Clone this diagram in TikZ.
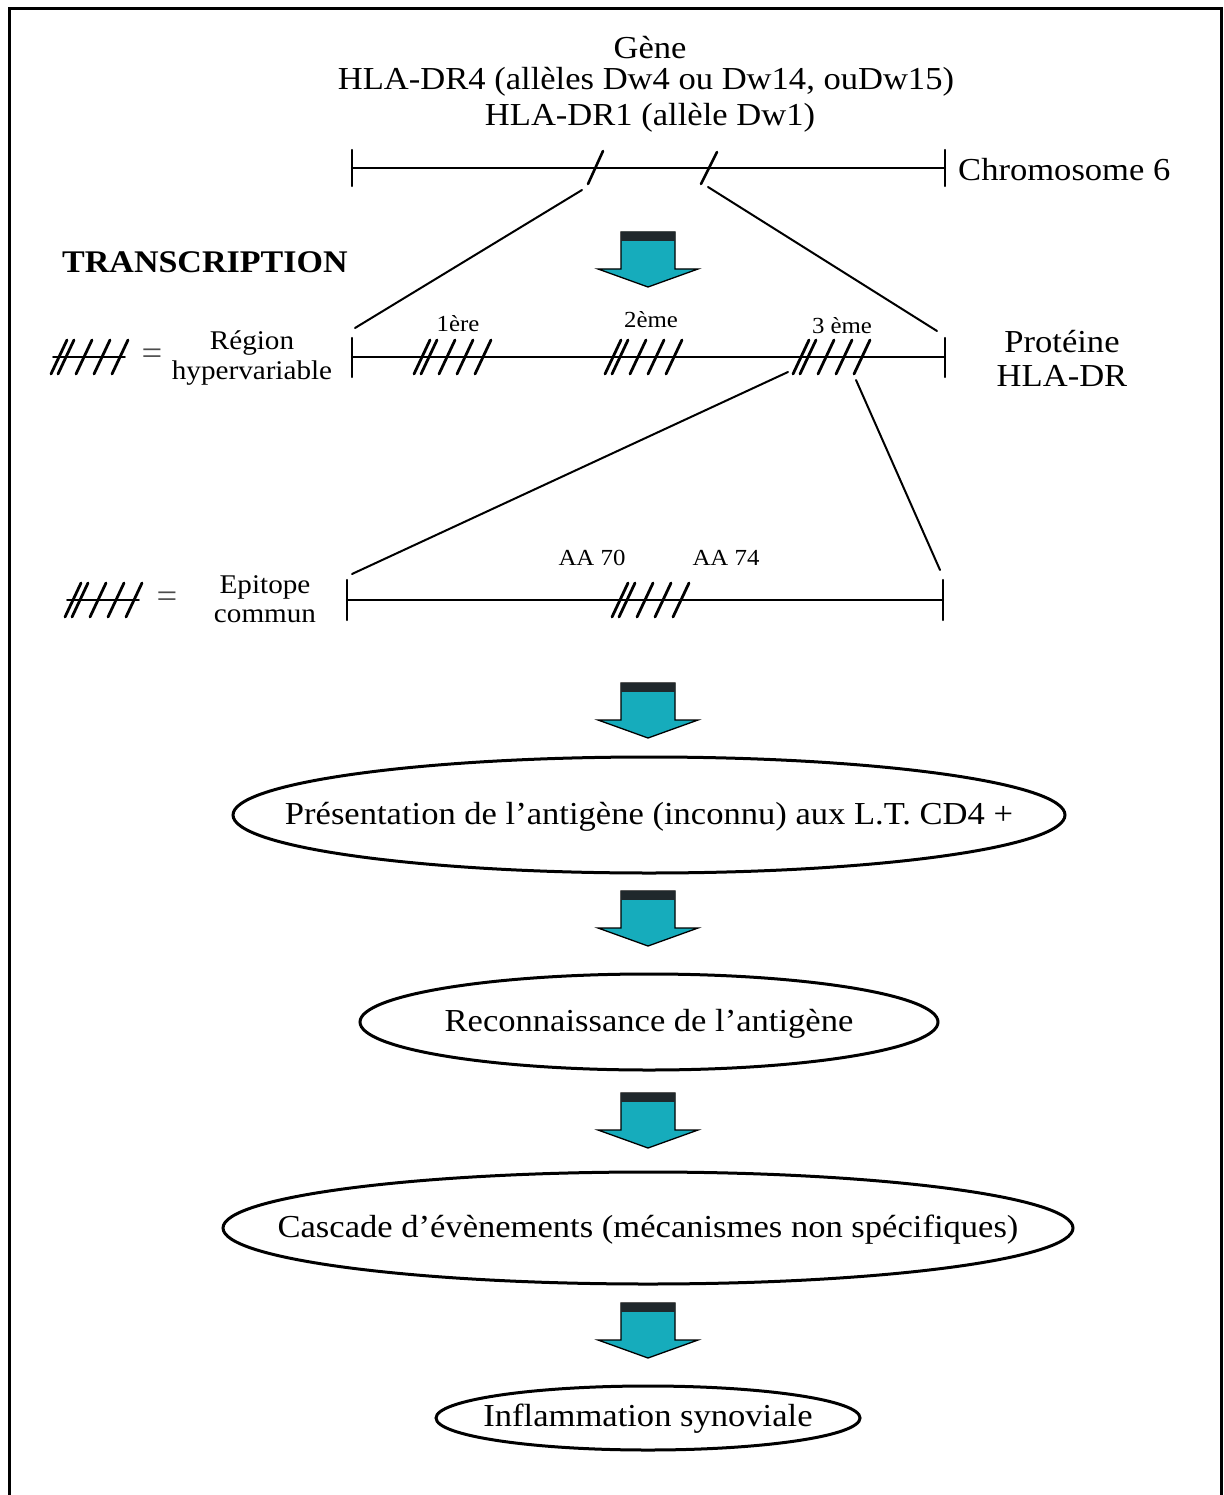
\documentclass[tikz,border=0pt]{standalone}
\usepackage{fontspec}
\setmainfont{Liberation Serif}[FakeStretch=1.08]
\definecolor{tealfill}{RGB}{22,172,188}
\definecolor{darkband}{RGB}{32,40,44}
\begin{document}
\begin{tikzpicture}[x=1pt,y=-1pt,line cap=round,
  txt/.style={font=\fontsize{32}{35}\selectfont,inner sep=0pt,align=center},
  smalltxt/.style={font=\fontsize{27}{30}\selectfont,inner sep=0pt,align=center},
  eqtxt/.style={font=\fontsize{34}{36}\selectfont,inner sep=0pt,text=black!70},
  tinytxt/.style={font=\fontsize{23}{25}\selectfont,inner sep=0pt},
  aatxt/.style={font=\fontsize{23}{25}\selectfont,inner sep=0pt},
  boldtxt/.style={font=\fontsize{31.5}{33}\selectfont\bfseries,inner sep=0pt},
  axis/.style={line width=2.2pt},
  zoomline/.style={line width=2pt},
  elltxt/.style={inner sep=0pt,font=\fontsize{32}{35}\selectfont},
  ellline/.style={line width=3pt},
  hatchmark/.pic={\foreach \d in {-30,-23,-5,13,31}{\draw[line width=2.8pt] (\d-8,17) -- (\d+8,-17);}},
  legendhatch/.pic={\draw[line width=1.6pt] (-36,0) -- (36,0);
     \foreach \d in {-30,-23,-5,13,31}{\draw[line width=2.8pt] (\d-8,17) -- (\d+8,-17);}},
  bigarrow/.pic={
    \filldraw[fill=tealfill,draw=black,line width=1.3pt,line join=miter]
      (-27,0) -- (27,0) -- (27,37) -- (50,37) -- (0,55) -- (-50,37) -- (-27,37) -- cycle;
    \fill[darkband] (-27,0) rectangle (27,9);}
]
\useasboundingbox (0,0) rectangle (1223,1495);
\fill[white] (0,0) rectangle (1223,1495);
\draw[line width=3pt,line cap=butt] (9,1500) -- (9,9) -- (1221,9) -- (1221,1500);

% title
\node[txt] (gene) at (650,48) {Gène};
\node[txt] (dr4) at (646,82) {HLA-DR4 (allèles Dw4 ou Dw14, ouDw15)};
\node[txt] (dr1) at (650,118) {HLA-DR1 (allèle Dw1)};

% chromosome
\coordinate (c1) at (352,168);
\coordinate (c2) at (945,168);
\draw[axis] (c1) -- (c2);
\draw[axis] (352,150) -- (352,186);
\draw[axis] (945,150) -- (945,186);
\node[txt,anchor=west] (chrom) at (958,170) {Chromosome 6};
\draw[line width=2.6pt] (603,151) -- (588,184);
\draw[line width=2.6pt] (717,152) -- (701,184);
\coordinate (s1) at (582,190);
\coordinate (s2) at (708,187);

% transcription
\node[boldtxt,anchor=west] (transc) at (62,262) {TRANSCRIPTION};
\pic at (648,232) {bigarrow};

% protein
\coordinate (p1) at (352,357);
\coordinate (p2) at (945,357);
\coordinate (pl) at (355,328);
\coordinate (pr) at (937,331);
\draw[zoomline] (s1) -- (pl);
\draw[zoomline] (s2) -- (pr);
\draw[axis] (p1) -- (p2);
\draw[axis] (352,338) -- (352,377);
\draw[axis] (945,338) -- (945,377);
\pic at (452,357) {hatchmark};
\pic at (643,357) {hatchmark};
\pic at (831,357) {hatchmark};
\node[tinytxt] (l1) at (458,324) {1ère};
\node[tinytxt] (l2) at (651,320) {2ème};
\node[tinytxt] (l3) at (842,326) {3 ème};
\pic at (89,357) {legendhatch};
\node[eqtxt] (eq1) at (152,357) {=};
\node[smalltxt] (reg) at (252,343) {Région};
\node[smalltxt] (hyp) at (252,373) {hypervariable};
\node[txt] (prot) at (1062,342) {Protéine};
\node[txt] (hla) at (1062,376) {HLA-DR};

% epitope
\coordinate (h3l) at (788,372);
\coordinate (h3r) at (856,380);
\coordinate (el) at (352,574);
\coordinate (er) at (940,570);
\draw[zoomline] (h3l) -- (el);
\draw[zoomline] (h3r) -- (er);
\coordinate (e1) at (347,600);
\coordinate (e2) at (943,600);
\draw[axis] (e1) -- (e2);
\draw[axis] (347,580) -- (347,620);
\draw[axis] (943,580) -- (943,620);
\pic at (650,600) {hatchmark};
\node[aatxt] (aa70) at (592,558) {AA 70};
\node[aatxt] (aa74) at (726,558) {AA 74};
\pic at (103,600) {legendhatch};
\node[eqtxt] (eq2) at (167,600) {=};
\node[smalltxt] (epi) at (265,587) {Epitope};
\node[smalltxt] (com) at (265,616) {commun};

% flow
\pic at (648,683) {bigarrow};
\node[elltxt] (pres) at (649,817) {Présentation de l’antigène (inconnu) aux L.T. CD4 +};
\draw[ellline] (649,815) ellipse [x radius=416, y radius=58];
\pic at (648,891) {bigarrow};
\node[elltxt] (reco) at (649,1024) {Reconnaissance de l’antigène};
\draw[ellline] (649,1022) ellipse [x radius=289, y radius=48];
\pic at (648,1093) {bigarrow};
\node[elltxt] (casc) at (648,1230) {Cascade d’évènements (mécanismes non spécifiques)};
\draw[ellline] (648,1228) ellipse [x radius=425, y radius=56];
\pic at (648,1303) {bigarrow};
\node[elltxt] (infl) at (648,1419) {Inflammation synoviale};
\draw[ellline] (648,1418) ellipse [x radius=212, y radius=32];
\end{tikzpicture}
\end{document}
